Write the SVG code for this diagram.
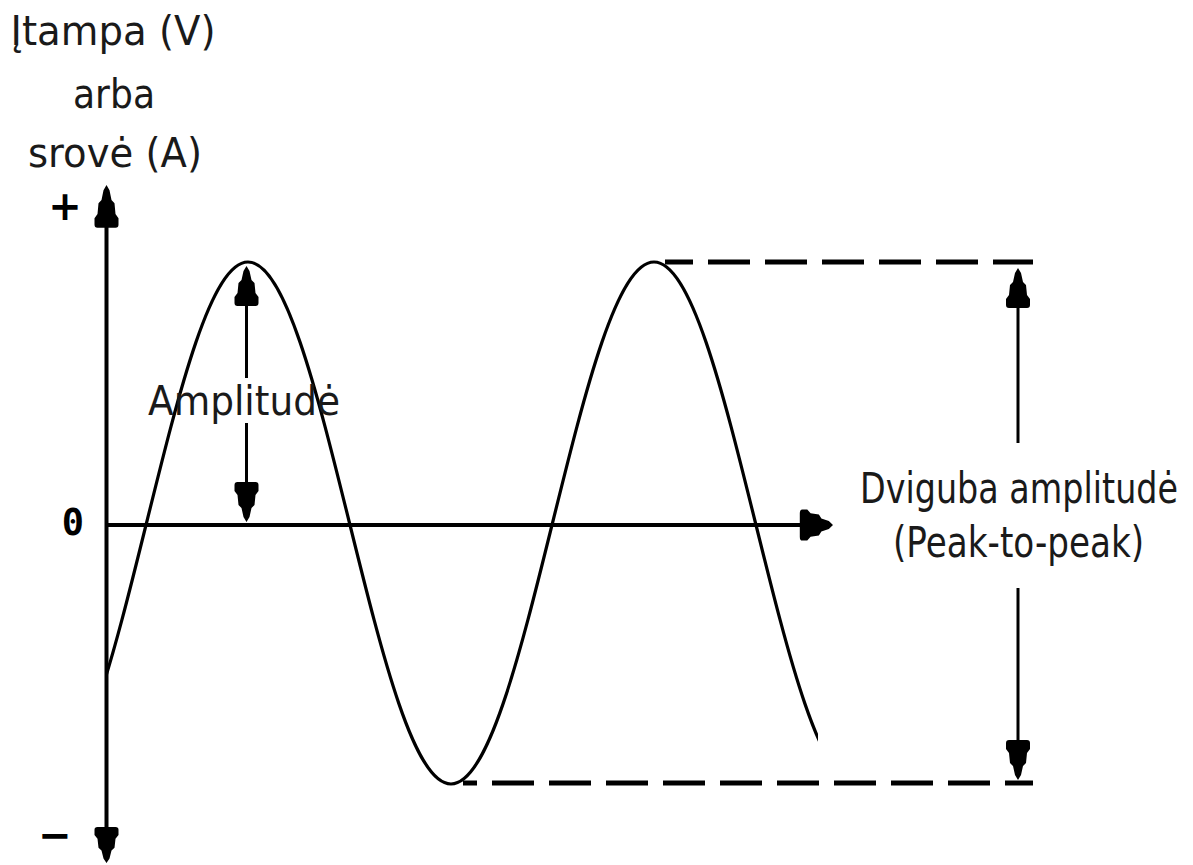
<svg xmlns="http://www.w3.org/2000/svg" xmlns:xlink="http://www.w3.org/1999/xlink" width="1193" height="865" viewBox="0 0 1193 865">
<style>
.lbl{font-family:"DejaVu Sans","Liberation Sans",sans-serif;fill:#1a1a1a}
.axis{stroke:#000;stroke-width:4;fill:none}
.dash{stroke:#000;stroke-width:5;fill:none;stroke-dasharray:42 15}
.wave{stroke:#000;stroke-width:3.2;fill:none}
.dim{stroke:#000;stroke-width:3;fill:none}
.sym{font-family:"DejaVu Sans","Liberation Sans",sans-serif;font-weight:bold;fill:#000}
.zero{font-family:"DejaVu Sans Mono","Liberation Mono",monospace;font-weight:bold;fill:#000}
</style>
<defs>
<path id="ah" d="M0,0 L3,5 L5,14 L8,17 L9,27 L12,31 L12,37 Q12,40 9,40 L-9,40 Q-12,40 -12,37 L-12,31 L-9,27 L-8,17 L-5,14 L-3,5 Z" fill="#000"/>
<clipPath id="wclip"><rect x="106" y="200" width="712" height="620"/></clipPath>
</defs>
<rect width="1193" height="865" fill="#fff"/>

<g id="y-axis-label">
<text class="lbl" font-size="40" text-anchor="middle" x="113" y="45" textLength="205" lengthAdjust="spacingAndGlyphs">Įtampa (V)</text>
<text class="lbl" font-size="40" text-anchor="middle" x="114" y="108" textLength="82" lengthAdjust="spacingAndGlyphs">arba</text>
<text class="lbl" font-size="40" text-anchor="middle" x="115" y="167" textLength="174" lengthAdjust="spacingAndGlyphs">srovė (A)</text>
</g>

<g id="axis-symbols">
<text class="sym" font-size="40" text-anchor="middle" x="65" y="220">+</text>
<text class="sym" font-size="40" text-anchor="middle" x="55" y="849">−</text>
<text class="zero" font-size="37" text-anchor="middle" x="73" y="535">0</text>
</g>

<g id="connectors">
<g id="y-axis">
<line class="axis" x1="106.5" y1="225" x2="106.5" y2="830"/>
<use xlink:href="#ah" href="#ah" transform="translate(106.5,185) scale(1,1.07)"/>
<use xlink:href="#ah" href="#ah" transform="translate(106.5,863) rotate(180) scale(1,0.9)"/>
</g>
<g id="x-axis">
<line class="axis" x1="106" y1="525" x2="803" y2="525"/>
<use xlink:href="#ah" href="#ah" transform="translate(833,525) rotate(90) scale(1.3,0.83)"/>
</g>
<g id="dashed-guides">
<line class="dash" x1="665" y1="262" x2="1033" y2="262" stroke-dashoffset="14"/>
<line class="dash" x1="463" y1="783" x2="1033" y2="783" stroke-dashoffset="28"/>
</g>
<g id="amplitude-arrow">
<line class="dim" x1="246.5" y1="300" x2="246.5" y2="378"/>
<line class="dim" x1="246.5" y1="423" x2="246.5" y2="488"/>
<use xlink:href="#ah" href="#ah" transform="translate(246.5,266)"/>
<use xlink:href="#ah" href="#ah" transform="translate(246.5,522) rotate(180)"/>
</g>
<g id="peak-to-peak-arrow">
<line class="dim" x1="1018" y1="300" x2="1018" y2="443"/>
<line class="dim" x1="1018" y1="588" x2="1018" y2="748"/>
<use xlink:href="#ah" href="#ah" transform="translate(1018,268)"/>
<use xlink:href="#ah" href="#ah" transform="translate(1018,780) rotate(180)"/>
</g>
</g>

<g id="sine-wave" clip-path="url(#wclip)">
<path class="wave" d="M45,784 C81.75,784 113.4,656.7 146.5,523 C179.6,389.3 211.25,262 248,262 C284.75,262 316.4,389.3 349.5,523 C382.6,656.7 414.25,784 451,784 C487.75,784 519.4,656.7 552.5,523 C585.6,389.3 617.25,262 654,262 C690.75,262 722.4,389.3 755.5,523 C788.6,656.7 820.25,784 857,784"/>
</g>

<g id="amplitude-label">
<text class="lbl" font-size="40" x="148" y="415" textLength="192" lengthAdjust="spacingAndGlyphs">Amplitudė</text>
</g>

<g id="peak-to-peak-label">
<text class="lbl" font-size="42" transform="translate(860,503) scale(0.795,1)">Dviguba amplitudė</text>
<text class="lbl" font-size="42" transform="translate(893,557) scale(0.815,1)">(Peak-to-peak)</text>
</g>
</svg>
